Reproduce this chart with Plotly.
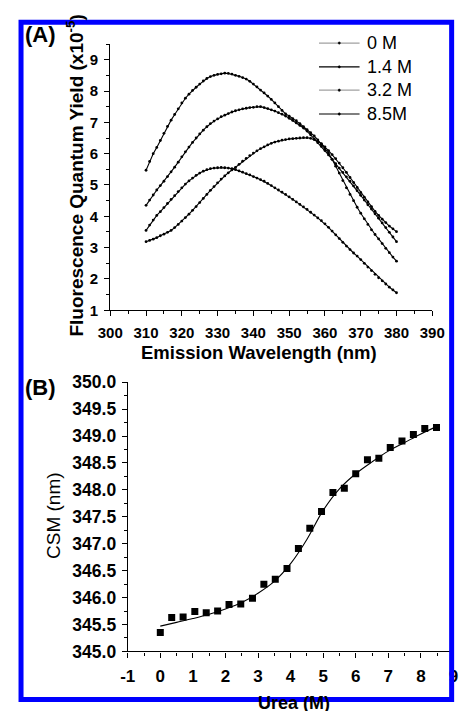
import plotly.graph_objects as go

# ---------------- data: panel A ----------------
wavelength = list(range(310, 381))
labels_A = ["0 M", "1.4 M", "3.2 M", "8.5M"]
qy_0M = [3.55, 3.72, 3.88, 4.03, 4.15, 4.28, 4.41, 4.54, 4.66, 4.79,
         4.91, 5.03, 5.13, 5.22, 5.31, 5.38, 5.44, 5.49, 5.52, 5.54,
         5.55, 5.56, 5.55, 5.54, 5.52, 5.49, 5.45, 5.41, 5.36, 5.32,
         5.27, 5.22, 5.17, 5.12, 5.05, 4.98, 4.91, 4.84, 4.77, 4.70,
         4.62, 4.54, 4.46, 4.38, 4.30, 4.22, 4.13, 4.04, 3.95, 3.86,
         3.76, 3.65, 3.53, 3.41, 3.29, 3.17, 3.05, 2.94, 2.83, 2.73,
         2.62, 2.50, 2.38, 2.27, 2.15, 2.04, 1.94, 1.84, 1.74, 1.65, 1.56]
qy_1_4M = [5.47, 5.75, 6.00, 6.20, 6.42, 6.65, 6.87, 7.07, 7.25, 7.43,
           7.62, 7.77, 7.90, 8.02, 8.12, 8.22, 8.32, 8.40, 8.46, 8.50,
           8.53, 8.55, 8.57, 8.56, 8.54, 8.50, 8.47, 8.43, 8.38, 8.31,
           8.22, 8.13, 8.03, 7.94, 7.84, 7.73, 7.62, 7.50, 7.38, 7.27,
           7.20, 7.12, 7.05, 6.96, 6.86, 6.77, 6.67, 6.57, 6.44, 6.30,
           6.16, 6.02, 5.82, 5.60, 5.38, 5.14, 4.91, 4.70, 4.50, 4.29,
           4.10, 3.92, 3.74, 3.57, 3.42, 3.28, 3.13, 2.98, 2.84, 2.70, 2.57]
qy_3_2M = [4.35, 4.52, 4.68, 4.84, 4.98, 5.12, 5.27, 5.42, 5.57, 5.73,
           5.90, 6.06, 6.21, 6.36, 6.50, 6.63, 6.75, 6.86, 6.96, 7.04,
           7.11, 7.18, 7.23, 7.28, 7.33, 7.37, 7.40, 7.43, 7.45, 7.47,
           7.48, 7.50, 7.50, 7.47, 7.44, 7.40, 7.36, 7.31, 7.26, 7.20,
           7.13, 7.06, 6.98, 6.90, 6.82, 6.72, 6.60, 6.47, 6.35, 6.23,
           6.10, 5.96, 5.82, 5.68, 5.54, 5.40, 5.26, 5.12, 4.97, 4.82,
           4.67, 4.52, 4.37, 4.23, 4.08, 3.94, 3.79, 3.64, 3.49, 3.34, 3.19]
qy_8_5M = [3.19, 3.23, 3.27, 3.32, 3.38, 3.43, 3.49, 3.55, 3.64, 3.74,
           3.85, 3.96, 4.07, 4.19, 4.31, 4.44, 4.57, 4.70, 4.83, 4.95,
           5.07, 5.19, 5.29, 5.39, 5.48, 5.56, 5.66, 5.76, 5.85, 5.94,
           6.02, 6.09, 6.16, 6.22, 6.28, 6.33, 6.37, 6.40, 6.43, 6.45,
           6.47, 6.48, 6.49, 6.50, 6.51, 6.51, 6.49, 6.45, 6.39, 6.32,
           6.22, 6.10, 5.97, 5.84, 5.70, 5.55, 5.40, 5.24, 5.08, 4.92,
           4.76, 4.61, 4.46, 4.31, 4.16, 4.03, 3.91, 3.80, 3.69, 3.60, 3.51]
series_A = [qy_0M, qy_1_4M, qy_3_2M, qy_8_5M]
legend_line_colors = ["#a0a0a0", "#000000", "#a0a0a0", "#000000"]

# ---------------- data: panel B ----------------
urea = [0.00, 0.35, 0.70, 1.06, 1.41, 1.76, 2.11, 2.47, 2.83, 3.18, 3.53, 3.89,
        4.24, 4.59, 4.95, 5.30, 5.65, 6.00, 6.36, 6.71, 7.06, 7.42, 7.77, 8.12, 8.48]
csm = [345.35, 345.63, 345.64, 345.74, 345.72, 345.75, 345.87, 345.88, 345.99,
       346.25, 346.34, 346.54, 346.91, 347.29, 347.60, 347.95, 348.03, 348.30,
       348.56, 348.59, 348.79, 348.91, 349.03, 349.14, 349.16]
fit_x = [0, 0.5, 1, 1.5, 2, 2.5, 3, 3.5, 4, 4.5, 5, 5.5, 6, 6.5, 7, 7.5, 8, 8.5]
fit_y = [345.47, 345.54, 345.61, 345.69, 345.79, 345.91, 346.08, 346.30, 346.63,
         347.08, 347.62, 348.02, 348.30, 348.52, 348.72, 348.88, 349.04, 349.18]
urea_tickvals = [-1, 0, 1, 2, 3, 4, 5, 6, 7, 8, 9]
urea_ticktext = ["-1", "0", "1", "2", "3", "4", "5", "6", "7", "8", "9"]

# ---------------- layout helpers ----------------
W, H = 467, 711
def fx(px):
    return px / W
def fy(py):
    return 1 - py / H

FONT = "Liberation Sans, Arial, sans-serif"

fig = go.Figure()

for vals in series_A:
    fig.add_trace(go.Scatter(
        x=wavelength, y=vals, mode="lines+markers", xaxis="x", yaxis="y",
        line=dict(color="black", width=1.1),
        marker=dict(color="black", size=2.8, symbol="circle"),
        showlegend=False, hoverinfo="skip"))

fig.add_trace(go.Scatter(
    x=fit_x, y=fit_y, mode="lines", xaxis="x2", yaxis="y2",
    line=dict(color="black", width=1.1, shape="spline"),
    showlegend=False, hoverinfo="skip"))
fig.add_trace(go.Scatter(
    x=urea, y=csm, mode="markers", xaxis="x2", yaxis="y2",
    marker=dict(color="black", size=7, symbol="square"),
    showlegend=False, hoverinfo="skip"))

axis_common = dict(showgrid=False, zeroline=False, showline=True,
                   linecolor="black", linewidth=1.2, ticks="outside",
                   tickcolor="black", tickwidth=1.2, ticklen=5)

fig.update_layout(
    width=W, height=H, autosize=False,
    margin=dict(l=0, r=0, t=0, b=0),
    paper_bgcolor="white", plot_bgcolor="white",
    font=dict(family=FONT, color="black"),
    xaxis=dict(domain=[fx(103), fx(444)], range=[300, 390], anchor="y",
               tick0=300, dtick=10,
               minor=dict(ticks="outside", ticklen=3, dtick=5, tickcolor="black", tickwidth=1.2),
               tickfont=dict(size=15, weight="bold", family=FONT),
               ticklabelstandoff=4, **axis_common),
    yaxis=dict(domain=[fy(309), fy(35)], range=[1, 9.5], anchor="x",
               tick0=1, dtick=1,
               minor=dict(ticks="outside", ticklen=3, dtick=0.5, tickcolor="black", tickwidth=1.2),
               tickfont=dict(size=15, weight="bold", family=FONT),
               ticklabelstandoff=3, **axis_common),
    xaxis2=dict(domain=[fx(121.5), fx(466.4)], range=[-1, 9], anchor="y2",
                tickmode="array", tickvals=urea_tickvals, ticktext=urea_ticktext,
                minor=dict(ticks="outside", ticklen=3, dtick=0.5, tickcolor="black", tickwidth=1.2),
                tickfont=dict(size=17, weight="bold", family=FONT),
                ticklabelstandoff=4, **axis_common),
    yaxis2=dict(domain=[fy(660), fy(383)], range=[345, 350], anchor="x2",
                tick0=345, dtick=0.5, tickformat=".1f",
                minor=dict(ticks="outside", ticklen=3, dtick=0.25, tickcolor="black", tickwidth=1.2),
                tickfont=dict(size=17.5, weight="bold", family=FONT),
                ticklabelstandoff=2, **axis_common),
)

ann = []
def add_text(text, px, py, size, bold=False, angle=0, xanchor="center", yanchor="middle"):
    ann.append(dict(text=text, x=fx(px), y=fy(py), xref="paper", yref="paper",
                    showarrow=False, textangle=angle, xanchor=xanchor, yanchor=yanchor,
                    font=dict(size=size, family=FONT, color="black",
                              weight="bold" if bold else "normal")))

add_text("(A)", 11, 25, 22, bold=True, xanchor="left")
add_text("(B)", 11, 388, 22, bold=True, xanchor="left")
add_text("Emission Wavelength (nm)", 261, 352, 18.5, bold=True)
add_text("Fluorescence Quantum Yield (x10<sup>-5</sup>)", 66, 170, 19, bold=True, angle=-90)
add_text("CSM (nm)", 43, 520, 19, angle=-90)
add_text("Urea (M)", 298, 713, 18, bold=True)

# manual legend
shapes = []
legend_rows = [34, 58.5, 82.5, 107]
for lab, col, ry in zip(labels_A, legend_line_colors, legend_rows):
    shapes.append(dict(type="line", xref="paper", yref="paper",
                       x0=fx(324), x1=fx(367), y0=fy(ry), y1=fy(ry),
                       line=dict(color=col, width=1.2)))
    shapes.append(dict(type="circle", xref="paper", yref="paper",
                       x0=fx(344.3), x1=fx(346.7), y0=fy(ry - 1.2), y1=fy(ry + 1.2),
                       fillcolor="black", line=dict(color="black", width=0.5)))
    add_text(lab, 373, ry, 18, xanchor="left")

# blue frame
shapes.append(dict(type="rect", xref="paper", yref="paper", layer="above",
                   x0=fx(8.5), x1=fx(464.5), y0=fy(709.5), y1=fy(12.5),
                   line=dict(color="#0000ff", width=5), fillcolor="rgba(0,0,0,0)"))

fig.update_layout(annotations=ann, shapes=shapes)

fig.write_html("out.html")
